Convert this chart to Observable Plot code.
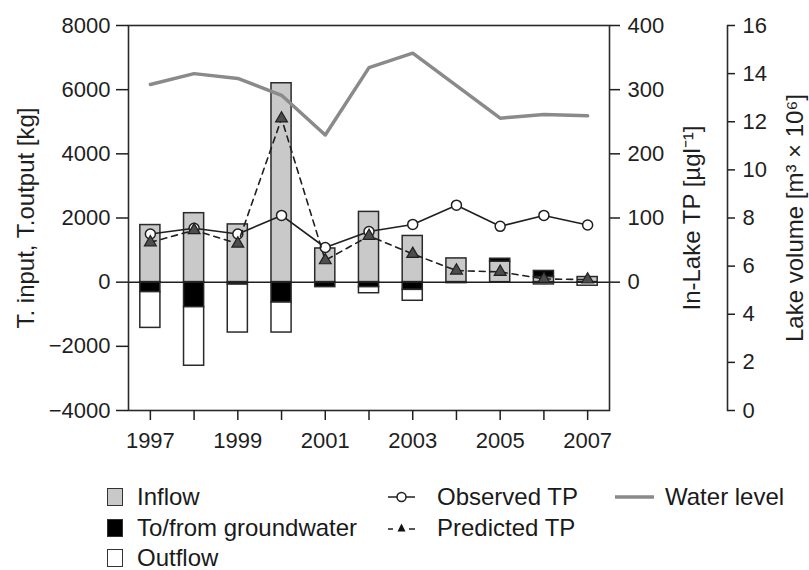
<!DOCTYPE html>
<html>
<head>
<meta charset="utf-8">
<script src="https://cdn.jsdelivr.net/npm/d3@7"></script>
<script src="https://cdn.jsdelivr.net/npm/@observablehq/plot@0.6"></script>
<style>
  html, body { margin: 0; padding: 0; background: #fff; }
  #wrap { position: relative; width: 809px; height: 570px; font-family: "Liberation Sans", Arial, Helvetica, sans-serif; color: #1a1a1a; }
  .lg { position: absolute; font-size: 24px; line-height: 28px; white-space: nowrap; }
  .sw { position: absolute; width: 16px; height: 18px; border: 1.5px solid #333; box-sizing: border-box; }
  .sym { position: absolute; }
</style>
</head>
<body>
<div id="wrap"></div>
<script>
// ---- data ----
const years = [1997, 1998, 1999, 2000, 2001, 2002, 2003, 2004, 2005, 2006, 2007];
const inflow = [1780, 2150, 1800, 6200, 1050, 2190, 1440, 740, 640, 160, 160];
const groundwater = [-310, -780, -75, -635, -155, -155, -240, -30, 90, 190, 0];
const outflow = [-1115, -1825, -1495, -935, 0, -190, -340, 0, 0, -70, -110];
const observedTP = [75, 84, 75, 104, 54, 79, 90, 120, 87, 104, 89];
const predictedTP = [62, 81, 60, 255, 34, 72, 44, 18, 16, 5, 4];
const lakeVolume = [13.55, 14.0, 13.8, 13.1, 11.45, 14.25, 14.85, 13.5, 12.15, 12.3, 12.25];

const leftTicks = [-4000, -2000, 0, 2000, 4000, 6000, 8000];
const tpTicks = [0, 100, 200, 300, 400];
const volumeTicks = [0, 2, 4, 6, 8, 10, 12, 14, 16];
const yearLabels = [1997, 1999, 2001, 2003, 2005, 2007];
const seriesNames = ["Inflow", "To/from groundwater", "Outflow"];

// secondary axes aligned to the left axis: TP 0..400 -> 0..8000, volume 0..16 -> -4000..8000
const tpToLeft = v => v * 20;
const leftToTp = v => v / 20;
const volToLeft = v => v * 750 - 4000;
const leftToVol = v => (v + 4000) / 750;

const bars = years.flatMap((year, i) => [
  {year, type: seriesNames[0], value: inflow[i]},
  {year, type: seriesNames[1], value: groundwater[i]},
  {year, type: seriesNames[2], value: outflow[i]}
]);
const series = years.map((year, i) => ({
  year, observed: observedTP[i], predicted: predictedTP[i], volume: lakeVolume[i]
}));

const ink = "#1f1f1f";
const titleSize = 24;

const chart = Plot.plot({
  width: 809,
  height: 470,
  marginTop: 25,
  marginBottom: 60,
  marginLeft: 128,
  marginRight: 200,
  style: {fontFamily: "'Liberation Sans', Arial, Helvetica, sans-serif", fontSize: "22px", color: ink, background: "white", overflow: "visible"},
  x: {domain: [1996.5, 2007.5]},
  y: {domain: [-4000, 8000]},
  color: {domain: seriesNames, range: ["#c9c9c9", "#000000", "#ffffff"]},
  marks: [
    Plot.rectY(bars, Plot.stackY({
      x1: d => d.year - 0.23, x2: d => d.year + 0.23,
      y: "value", z: "type", fill: "type", stroke: "#2a2a2a", strokeWidth: 1.5
    })),
    Plot.ruleY([0], {stroke: ink, strokeWidth: 1.5}),
    Plot.line(series, {x: "year", y: d => volToLeft(d.volume), stroke: "#8a8a8a", strokeWidth: 3.5}),
    Plot.line(series, {x: "year", y: d => tpToLeft(d.observed), stroke: ink, strokeWidth: 1.6}),
    Plot.dot(series, {x: "year", y: d => tpToLeft(d.observed), r: 5, fill: "white", stroke: ink, strokeWidth: 1.5}),
    Plot.line(series, {x: "year", y: d => tpToLeft(d.predicted), stroke: ink, strokeWidth: 1.6, strokeDasharray: "6,5"}),
    Plot.dot(series, {x: "year", y: d => tpToLeft(d.predicted), symbol: "triangle", r: 4.4, fill: "#4d4d4d", stroke: ink, strokeWidth: 1.2}),
    Plot.frame({stroke: "#2a2a2a", strokeWidth: 1.6}),
    Plot.axisX({ticks: years, tickFormat: d => yearLabels.includes(d) ? String(d) : "", tickSize: 10, tickPadding: 12, label: null, strokeWidth: 1.5}),
    // left axis: ticks + separate title
    Plot.axisY({anchor: "left", ticks: leftTicks, tickFormat: d3.format("d"), tickSize: 12, tickPadding: 6, strokeWidth: 1.5, label: null}),
    Plot.axisY({anchor: "left", ticks: [], tickSize: 0, label: "T. input, T.output [kg]", labelAnchor: "center", labelOffset: 112, labelArrow: "none", fontSize: titleSize, fill: ink}),
    // TP axis
    Plot.axisY({anchor: "right", ticks: tpTicks.map(tpToLeft), tickFormat: d => String(leftToTp(d)), tickSize: 10, tickPadding: 8, strokeWidth: 1.5, label: null}),
    Plot.axisY({anchor: "right", ticks: [], tickSize: 0, label: "In-Lake TP [µgl⁻¹]", labelAnchor: "center", labelOffset: 90, labelArrow: "none", fontSize: titleSize, fill: ink}),
    // Lake volume axis
    Plot.frame({anchor: "right", dx: 118, stroke: "#2a2a2a", strokeWidth: 1.6}),
    Plot.axisY({anchor: "right", dx: 118, ticks: volumeTicks.map(volToLeft), tickFormat: d => String(Math.round(leftToVol(d))), tickSize: 7, tickPadding: 8, strokeWidth: 1.5, label: null}),
    Plot.axisY({anchor: "right", ticks: [], tickSize: 0, label: "Lake volume [m³ × 10⁶]", labelAnchor: "center", labelOffset: 193, labelArrow: "none", fontSize: titleSize, fill: ink})
  ]
});

const wrap = document.getElementById("wrap");
wrap.appendChild(chart);

// ---- legend (HTML, below the SVG) ----
function add(html) { wrap.insertAdjacentHTML("beforeend", html); }
const rows = [497, 528, 558];
const fills = ["#c9c9c9", "#000000", "#ffffff"];
seriesNames.forEach((name, i) => {
  add(`<div class="sw" style="left:107px;top:${rows[i] - 9}px;background:${fills[i]}"></div>`);
  add(`<div class="lg" style="left:137px;top:${rows[i] - 14}px">${name}</div>`);
});
add(`<svg class="sym" style="left:386px;top:${rows[0] - 8}px" width="32" height="16">
  <line x1="2" x2="29" y1="8" y2="8" stroke="${ink}" stroke-width="1.5"/>
  <circle cx="15.5" cy="8" r="4.5" fill="white" stroke="${ink}" stroke-width="1.5"/></svg>`);
add(`<div class="lg" style="left:437px;top:${rows[0] - 14}px">Observed TP</div>`);
add(`<svg class="sym" style="left:386px;top:${rows[1] - 8}px" width="32" height="16">
  <line x1="2" x2="7" y1="9" y2="9" stroke="${ink}" stroke-width="1.5"/>
  <line x1="23" x2="29" y1="9" y2="9" stroke="${ink}" stroke-width="1.5"/>
  <path d="M15.5,3.5 L19.5,11.5 L11.5,11.5 Z" fill="#111"/></svg>`);
add(`<div class="lg" style="left:437px;top:${rows[1] - 14}px">Predicted TP</div>`);
add(`<svg class="sym" style="left:613px;top:${rows[0] - 8}px" width="44" height="16">
  <line x1="2" x2="41" y1="8" y2="8" stroke="#8a8a8a" stroke-width="3.5"/></svg>`);
add(`<div class="lg" style="left:665px;top:${rows[0] - 14}px">Water level</div>`);
</script>
</body>
</html>
